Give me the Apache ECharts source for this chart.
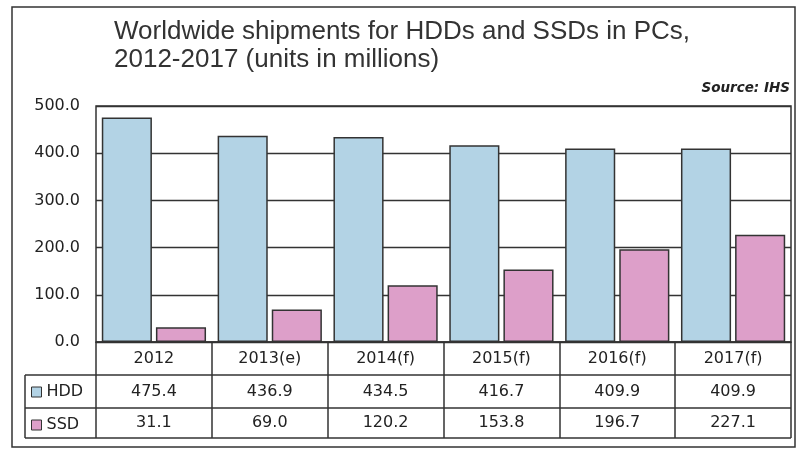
<!DOCTYPE html>
<html>
<head>
<meta charset="utf-8">
<script src="https://cdn.jsdelivr.net/npm/echarts@6/dist/echarts.min.js"></script>
<style>html,body{margin:0;padding:0;background:#fff;}#c{width:799px;height:452px;}</style>
</head>
<body>
<div id="c"></div>
<script>
var categories = ['2012', '2013(e)', '2014(f)', '2015(f)', '2016(f)', '2017(f)'];
var hddValues = [475.4, 436.9, 434.5, 416.7, 409.9, 409.9];
var ssdValues = [31.1, 69.0, 120.2, 153.8, 196.7, 227.1];
var seriesNames = ['HDD', 'SSD'];
var yTicks = { min: 0, max: 500, interval: 100 };

var G = { left: 96, right: 791, top: 106, bottom: 342 };
var rowH = [375, 408, 438];
var lineC = '#333';
var fam = '"Liberation Sans", Arial, sans-serif';
var famT = '"DejaVu Sans", sans-serif';

var chart = echarts.init(document.getElementById('c'), null, { renderer: 'canvas' });
function fmt(v) { return Number(v).toFixed(1); }

var hLines = rowH.map(function (y) {
  return { type: 'line', shape: { x1: 25, y1: y, x2: G.right, y2: y }, style: { stroke: lineC, lineWidth: 1.5 }, z: 10 };
});

chart.setOption({
  animation: false,
  backgroundColor: '#fff',
  title: [
    { text: 'Worldwide shipments for HDDs and SSDs in PCs,\n2012-2017 (units in millions)', left: 114, top: 18, padding: 0,
      textStyle: { fontFamily: fam, fontSize: 26, fontWeight: 'normal', color: '#333', lineHeight: 28 } },
    { text: 'Source: IHS', right: 9, top: 81, padding: 0,
      textStyle: { fontFamily: famT, fontSize: 13.5, fontWeight: 'bold', fontStyle: 'italic', color: '#222' } }
  ],
  legend: {
    orient: 'vertical', left: 31, top: 384, itemGap: 17, itemWidth: 10, itemHeight: 10, padding: 0,
    icon: 'rect', data: seriesNames,
    itemStyle: { borderColor: lineC, borderWidth: 1 },
    textStyle: { fontFamily: famT, fontSize: 16, color: '#222', lineHeight: 16 }
  },
  grid: { left: G.left, right: 799 - G.right, top: G.top, bottom: 452 - G.bottom, show: true, borderColor: lineC, borderWidth: 1.5, backgroundColor: 'transparent' },
  xAxis: [
    { type: 'category', data: categories, position: 'bottom', boundaryGap: true,
      axisLine: { lineStyle: { color: lineC, width: 1.5 } },
      axisTick: { show: true, interval: 0, length: rowH[2] - G.bottom, lineStyle: { color: lineC, width: 1.5 } },
      axisLabel: { interval: 0, margin: 9, fontFamily: famT, fontSize: 16, color: '#222' } },
    { type: 'category', data: hddValues.map(fmt), position: 'bottom', offset: rowH[0] - G.bottom, boundaryGap: true,
      axisLine: { show: false }, axisTick: { show: false },
      axisLabel: { interval: 0, margin: 9, fontFamily: famT, fontSize: 16, color: '#222' } },
    { type: 'category', data: ssdValues.map(fmt), position: 'bottom', offset: rowH[1] - G.bottom, boundaryGap: true,
      axisLine: { show: false }, axisTick: { show: false },
      axisLabel: { interval: 0, margin: 7, fontFamily: famT, fontSize: 16, color: '#222' } }
  ],
  yAxis: {
    type: 'value', min: yTicks.min, max: yTicks.max, interval: yTicks.interval,
    axisLine: { show: false }, axisTick: { show: false },
    splitLine: { show: true, lineStyle: { color: lineC, width: 1.3 } },
    axisLabel: { formatter: fmt, margin: 16, fontFamily: famT, fontSize: 16, color: '#222' }
  },
  series: [
    { name: seriesNames[0], type: 'bar', data: hddValues, barGap: '8%', barCategoryGap: '10%',
      itemStyle: { color: '#b3d3e5', borderColor: lineC, borderWidth: 1.5 } },
    { name: seriesNames[1], type: 'bar', data: ssdValues, barGap: '8%', barCategoryGap: '10%',
      itemStyle: { color: '#dd9fc9', borderColor: lineC, borderWidth: 1.5 } }
  ],
  graphic: hLines.concat([
    { type: 'line', shape: { x1: 25, y1: rowH[0], x2: 25, y2: rowH[2] }, style: { stroke: lineC, lineWidth: 1.5 }, z: 10 },
    { type: 'rect', shape: { x: 12, y: 7, width: 783, height: 440 }, style: { fill: 'none', stroke: lineC, lineWidth: 1.5 }, z: 10 }
  ])
});
</script>
</body>
</html>
